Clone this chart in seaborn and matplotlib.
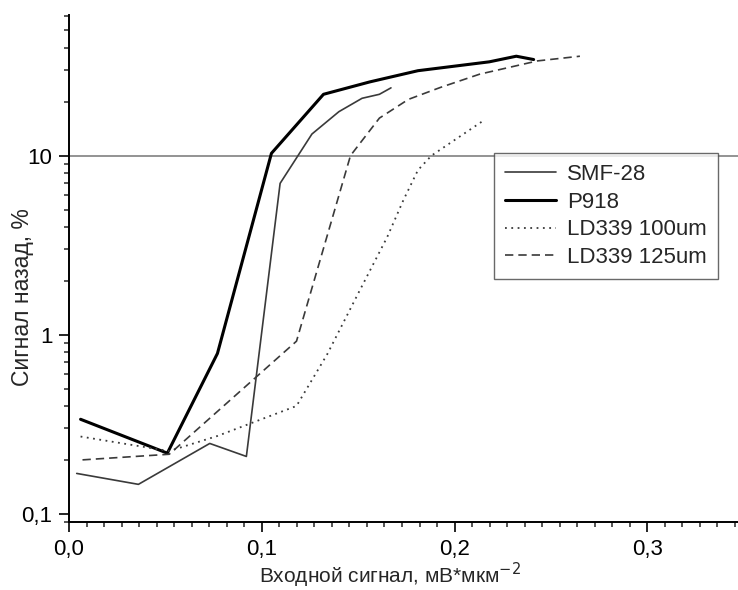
import matplotlib
matplotlib.use('Agg')
import matplotlib.pyplot as plt
import seaborn as sns
import pandas as pd
from matplotlib.ticker import FixedLocator, FuncFormatter, LogLocator, MultipleLocator, NullFormatter

# данные
smf_x = [0.004, 0.036, 0.073, 0.092, 0.1095, 0.126, 0.140, 0.152, 0.161, 0.167]
smf_y = [0.168, 0.146, 0.247, 0.209, 7.0, 13.2, 17.6, 20.9, 22.0, 23.9]

p918_x = [0.006, 0.051, 0.077, 0.105, 0.132, 0.156, 0.181, 0.218, 0.232, 0.241]
p918_y = [0.337, 0.218, 0.786, 10.3, 22.0, 25.8, 29.8, 33.4, 35.9, 34.4]

ld100_x = [0.006, 0.052, 0.077, 0.118, 0.134, 0.150, 0.165, 0.1735, 0.181, 0.188, 0.215]
ld100_y = [0.27, 0.224, 0.272, 0.40, 0.78, 1.7, 3.5, 5.66, 8.3, 10.0, 15.7]

ld125_x = [0.007, 0.052, 0.118, 0.146, 0.161, 0.176, 0.1925, 0.213, 0.243, 0.265]
ld125_y = [0.20, 0.215, 0.92, 10.0, 16.2, 20.6, 24.0, 28.5, 33.8, 35.9]

labels = ['SMF-28', 'P918', 'LD339 100um', 'LD339 125um']
x_ticks = [0.0, 0.1, 0.2, 0.3]
y_ticks = [0.1, 1, 10]

sns.set_style('ticks')
plt.rcParams['font.family'] = ['Liberation Sans', 'DejaVu Sans']

fig = plt.figure(figsize=(7.38, 5.90), dpi=100)
ax = fig.add_axes([0.0935, 0.1153, 0.9065, 0.8593])

series = [
    (smf_x, smf_y, labels[0], dict(color='#3a3a3a', linewidth=1.2, linestyle='-')),
    (p918_x, p918_y, labels[1], dict(color='black', linewidth=2.2, linestyle='-')),
    (ld100_x, ld100_y, labels[2], dict(color='#3a3a3a', linewidth=1.3, linestyle=(0, (1, 2.5)))),
    (ld125_x, ld125_y, labels[3], dict(color='#3a3a3a', linewidth=1.2, linestyle=(0, (5, 3)))),
]
for xs, ys, name, st in series:
    df = pd.DataFrame({'x': xs, 'y': ys})
    sns.lineplot(data=df, x='x', y='y', ax=ax, sort=False, label=name, **st)

ax.axhline(10, color='#808080', linewidth=1.2, zorder=0)

ax.set_yscale('log')
ax.set_xlim(0, 0.347)
ax.set_ylim(0.09, 61)

ax.xaxis.set_major_locator(FixedLocator(x_ticks))
ax.xaxis.set_minor_locator(MultipleLocator(0.1 / 11))
ax.xaxis.set_major_formatter(FuncFormatter(lambda v, p: f'{v:.1f}'.replace('.', ',')))
ax.yaxis.set_major_locator(FixedLocator(y_ticks))
ax.yaxis.set_minor_locator(LogLocator(base=10, subs=range(2, 10)))
ax.yaxis.set_minor_formatter(NullFormatter())
ax.yaxis.set_major_formatter(FuncFormatter(lambda v, p: f'{v:g}'.replace('.', ',')))

ax.tick_params(which='major', direction='out', length=7, width=1.2, labelsize=16,
               colors='black', pad=5)
ax.tick_params(which='minor', direction='out', length=3.8, width=1.1)

for side in ['top', 'right']:
    ax.spines[side].set_visible(False)
for side in ['left', 'bottom']:
    ax.spines[side].set_linewidth(1.4)
    ax.spines[side].set_color('black')

ax.set_xlabel('Входной сигнал, мВ*мкм$^{-2}$', fontsize=15)
ax.set_ylabel('Сигнал назад, %', fontsize=16.5)
ax.xaxis.set_label_coords(0.48, -0.077)
ax.yaxis.set_label_coords(-0.052, 0.444)

leg = ax.legend(loc='upper left', bbox_to_anchor=(0.635, 0.728), fontsize=16,
                frameon=True, fancybox=False, handlelength=2.3, handletextpad=0.5,
                labelspacing=0.3, borderpad=0.5, borderaxespad=0)
leg.get_frame().set_edgecolor('#444444')
leg.get_frame().set_linewidth(1.0)

fig.savefig('out.png', dpi=100)
